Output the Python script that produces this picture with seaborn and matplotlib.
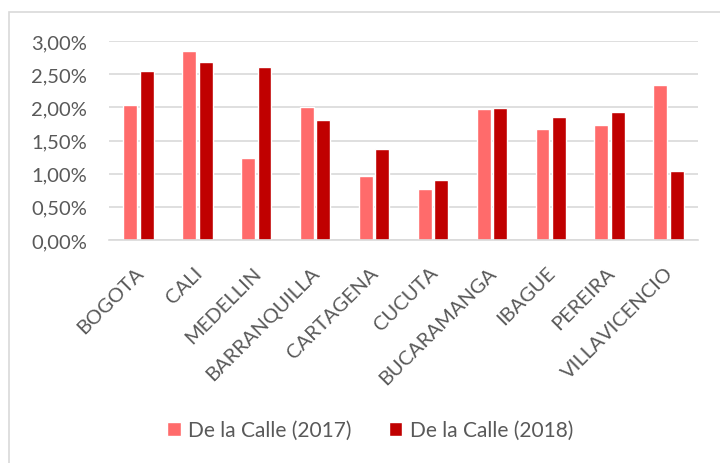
import pandas as pd
import matplotlib
matplotlib.use('Agg')
import matplotlib.pyplot as plt
import matplotlib.transforms as mtransforms
from matplotlib.patches import Rectangle
from matplotlib.ticker import FuncFormatter, MultipleLocator
import seaborn as sns

# Data (percent)
cities = ['BOGOTA', 'CALI', 'MEDELLIN', 'BARRANQUILLA', 'CARTAGENA',
          'CUCUTA', 'BUCARAMANGA', 'IBAGUE', 'PEREIRA', 'VILLAVICENCIO']
calle_2017 = [2.03, 2.85, 1.24, 2.01, 0.97, 0.77, 1.98, 1.67, 1.74, 2.34]
calle_2018 = [2.55, 2.69, 2.61, 1.81, 1.37, 0.90, 1.99, 1.86, 1.93, 1.04]
series_names = ['De la Calle (2017)', 'De la Calle (2018)']
colors = ['#FF6B6B', '#C00000']

df = pd.DataFrame({
    'ciudad': cities * 2,
    'valor': calle_2017 + calle_2018,
    'serie': [series_names[0]] * len(cities) + [series_names[1]] * len(cities),
})

sns.set_style('white')
plt.rcParams['font.family'] = ['Lato', 'DejaVu Sans']
text_color = '#595959'
grid_color = '#D9D9D9'

fig = plt.figure(figsize=(7.2, 4.64), dpi=100)
ax = fig.add_axes([109 / 720, 1 - 241 / 464, 589 / 720, 199 / 464])

# chart frame (Excel style border, runs off right/bottom)
fig.patches.append(Rectangle((9 / 720, -0.05), 1.1, 1 - 13 / 464 + 0.05,
                             transform=fig.transFigure, fill=False,
                             edgecolor=grid_color, linewidth=1.2))

sns.barplot(data=df, x='ciudad', y='valor', hue='serie', palette=colors,
            width=0.56, gap=0.16, ax=ax, saturation=1, legend=True)

ax.set_ylim(0, 3.0)
ax.set_xlim(-0.5, len(cities) - 0.5)
ax.yaxis.set_major_locator(MultipleLocator(0.5))
ax.yaxis.set_major_formatter(FuncFormatter(lambda v, p: f'{v:.2f}%'.replace('.', ',')))
ax.grid(axis='y', color=grid_color, linewidth=1.2)
ax.set_axisbelow(True)
for s in ['top', 'right', 'left']:
    ax.spines[s].set_visible(False)
ax.spines['bottom'].set_color(grid_color)
ax.spines['bottom'].set_linewidth(1.2)

ax.set_xlabel('')
ax.set_ylabel('')
ax.tick_params(axis='y', length=0, pad=16, labelsize=14.5, labelcolor=text_color)
ax.tick_params(axis='x', length=0, pad=17, labelsize=14.5, labelcolor=text_color)

offset = mtransforms.ScaledTranslation(-3 / 72, 0, fig.dpi_scale_trans)
for lbl in ax.get_xticklabels():
    lbl.set_rotation(45)
    lbl.set_rotation_mode('anchor')
    lbl.set_ha('right')
    lbl.set_va('top')
    lbl.set_transform(lbl.get_transform() + offset)

ax.legend(loc='center', bbox_to_anchor=(0.5 + 10 / 720, 1 - 431 / 464),
          bbox_transform=fig.transFigure, ncol=2, frameon=False,
          fontsize=15, labelcolor=text_color, handlelength=0.65,
          handleheight=0.65, handletextpad=0.35, columnspacing=1.8)

fig.savefig('out.png', dpi=100)
